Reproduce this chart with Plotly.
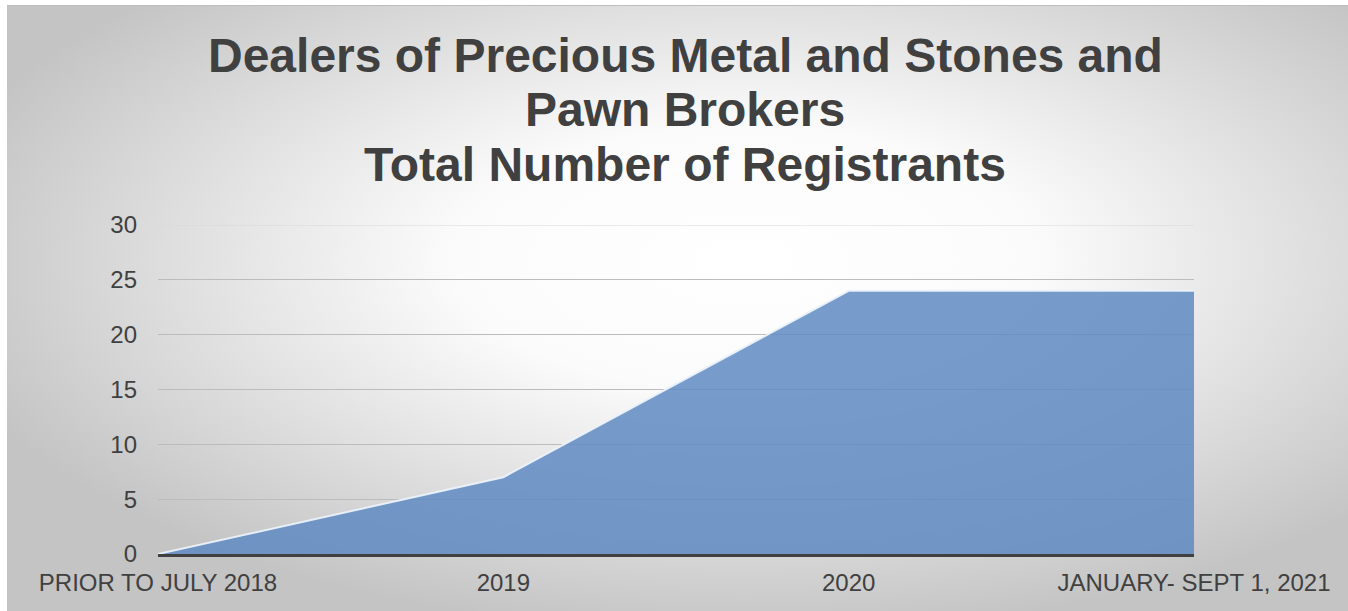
import base64
import plotly.graph_objects as go

# ---- data ----
categories = ["PRIOR TO JULY 2018", "2019", "2020", "JANUARY- SEPT 1, 2021"]
registrants = [0, 7, 24, 24]
y_ticks = [0, 5, 10, 15, 20, 25, 30]
title_lines = ["Dealers of Precious Metal and Stones and", "Pawn Brokers", "Total Number of Registrants"]

W, H = 1348, 611
L, R, T, B = 158, 154, 225, 57
pw, ph = W - L - R, H - T - B

# radial gradient background (chart area in reference starts at x=7, y=5)
svg = f'''<svg xmlns="http://www.w3.org/2000/svg" width="{W-7}" height="{H-5}" viewBox="0 0 {W-7} {H-5}">
<defs><radialGradient id="g" cx="0.55" cy="0.42" r="0.62" fx="0.55" fy="0.42">
<stop offset="0" stop-color="#ffffff"/><stop offset="0.35" stop-color="#fbfbfb"/><stop offset="1" stop-color="#c4c4c4"/>
</radialGradient></defs>
<rect x="0" y="0" width="{W-7}" height="{H-5}" fill="url(#g)"/>
<line x1="0" y1="0.5" x2="{W-7}" y2="0.5" stroke="#bdbdbd" stroke-width="1"/>
</svg>'''
src = "data:image/svg+xml;base64," + base64.b64encode(svg.encode()).decode()

x_idx = list(range(len(categories)))

fig = go.Figure()
fig.add_trace(go.Scatter(
    x=x_idx, y=registrants, mode="lines", fill="tozeroy",
    fillcolor="rgba(95,139,194,0.85)",
    line=dict(color="rgba(235,242,250,0.95)", width=2),
    hoverinfo="skip", showlegend=False,
))

# top gridline (at the range edge plotly omits it)
fig.add_shape(type="line", xref="paper", yref="y", x0=0, x1=1, y0=y_ticks[-1], y1=y_ticks[-1],
              line=dict(color="#d8d8d8", width=1), layer="below")

fig.update_layout(
    width=W, height=H,
    margin=dict(l=L, r=R, t=T, b=B, pad=0),
    paper_bgcolor="white", plot_bgcolor="rgba(0,0,0,0)",
    font=dict(family="Liberation Sans, Arial, sans-serif", color="#404040"),
    images=[dict(source=src, xref="paper", yref="paper",
                 x=(7 - L) / pw, y=(H - B - 5) / ph,
                 sizex=(W - 7) / pw, sizey=(H - 5) / ph,
                 xanchor="left", yanchor="top", sizing="stretch", layer="below")],
    xaxis=dict(range=[0, len(categories) - 1], tickvals=x_idx, ticktext=categories,
               showgrid=False, zeroline=False, showline=True, linecolor="#404040", linewidth=3,
               ticks="", tickfont=dict(size=24, color="#404040"), ticklabelstandoff=5),
    yaxis=dict(range=[0, 30], tickvals=y_ticks, showgrid=True, gridcolor="#bcbcbc", gridwidth=1,
               zeroline=False, showline=False, ticks="",
               tickfont=dict(size=24, color="#404040"), ticklabelstandoff=20),
)

title_y_px = [55, 110, 164]
for line, ypx in zip(title_lines, title_y_px):
    fig.add_annotation(text=f"<b>{line}</b>", xref="paper", yref="paper",
                       x=(685 - L) / pw, y=(H - B - ypx) / ph, xanchor="center", yanchor="middle",
                       showarrow=False, font=dict(size=48, color="#404040",
                                                  family="Liberation Sans, Arial, sans-serif"))

fig.write_html("out.html")
